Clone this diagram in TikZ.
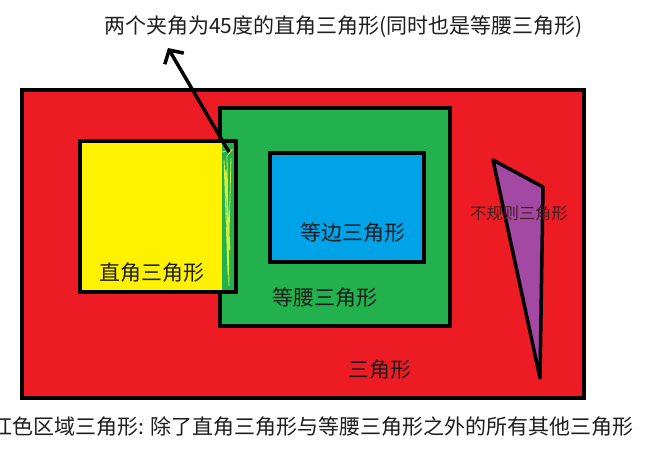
\documentclass[tikz,border=0pt]{standalone}
\usepackage{fontspec}
\newfontfamily\cjk{Noto Sans CJK SC}
\usepackage{tikz}
\usetikzlibrary{arrows.meta}
\definecolor{paintred}{RGB}{237,28,36}
\definecolor{paintyellow}{RGB}{255,242,0}
\definecolor{paintgreen}{RGB}{34,177,76}
\definecolor{paintblue}{RGB}{0,162,232}
\definecolor{paintpurple}{RGB}{163,73,164}
\definecolor{scribble}{RGB}{214,238,60}
\definecolor{labeltext}{RGB}{30,30,30}
\tikzset{
    area/.style={draw=black,line width=4pt},
    label text/.style={font=\cjk\fontsize{21}{24}\selectfont,text=labeltext,inner sep=0pt},
    small text/.style={font=\cjk\fontsize{16.2}{19}\selectfont,text=labeltext!80!paintred,inner sep=0pt}
}
\begin{document}
\begin{tikzpicture}[x=1pt,y=-1pt]
    \useasboundingbox[fill=white] (0,0) rectangle (650,449);
    \draw[area,fill=paintred] (22,90) rectangle (584,398);
    \draw[area,fill=paintgreen] (220,108) rectangle (450,326);
    \draw[area,fill=paintyellow] (80,141) rectangle (236,292);
    \fill[paintgreen] (222,143) rectangle (234,290);
    \draw[area] (220,141) -- (236,141) -- (236,292) -- (220,292);
    \draw[area,fill=paintblue] (270,153) rectangle (424,262);
    \draw[area,fill=paintpurple,line width=3.5pt,line join=round] (493,160) -- (543,187) -- (540,378) -- cycle;
    \draw[scribble,line width=0.8pt] (222,152) -- (232,150) -- (227,156) -- (229,286) -- (226,170) -- (230,250) -- (224,160) -- (228,275) -- (231,158);
    \coordinate (strip) at (229,152);
    \coordinate (tip) at (168,48);
    \draw[line width=3.5pt,-{Straight Barb[length=10pt,width=22pt]}] (strip) -- (tip);
    \node[label text,anchor=west] (title) at (104,27) {两个夹角为45度的直角三角形(同时也是等腰三角形)};
    \node[label text] (right) at (152,273) {直角三角形};
    \node[label text] (equi) at (353,233) {等边三角形};
    \node[label text] (isos) at (325,298) {等腰三角形};
    \node[label text] (tri) at (380,370) {三角形};
    \node[small text] (irregular) at (519,213) {不规则三角形};
    \node[label text,anchor=west] (note) at (-9,427) {红色区域三角形: 除了直角三角形与等腰三角形之外的所有其他三角形};
\end{tikzpicture}
\end{document}
